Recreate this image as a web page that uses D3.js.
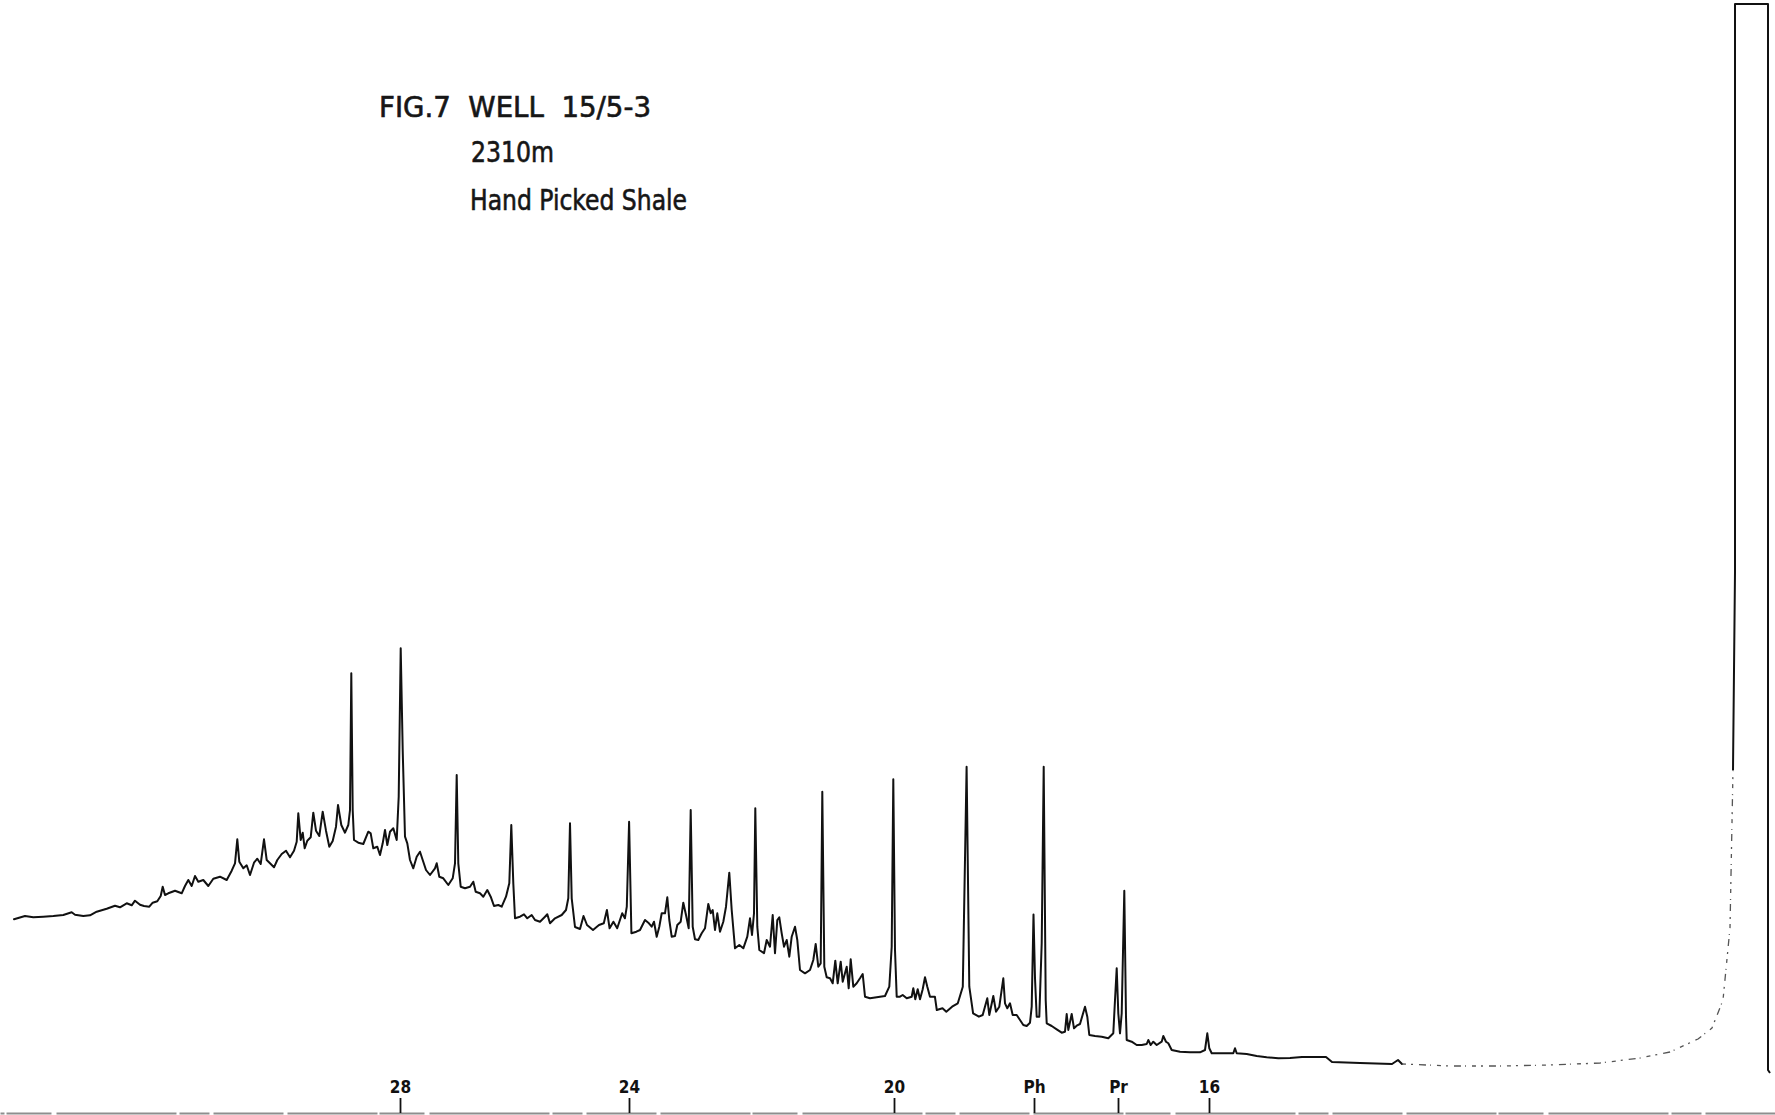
<!DOCTYPE html>
<html>
<head>
<meta charset="utf-8">
<script src="https://cdn.jsdelivr.net/npm/d3@7"></script>
<style>
  html, body { margin: 0; padding: 0; background: #ffffff; }
  svg { display: block; }
</style>
</head>
<body>
<svg id="chart" width="1775" height="1115"></svg>
<script>
// Gas chromatogram of the hand-picked shale extract.
// Retention time in minutes (time runs right to left on the plotter chart),
// detector response in percent of full scale.

const titleLines = ["FIG.7  WELL  15/5-3", "2310m", "Hand Picked Shale"];

// Labelled peaks: n-alkane carbon numbers, phytane and pristane
const tickLabels = ["28", "24", "20", "Ph", "Pr", "16"];
const tickTimes  = [55.0, 45.84, 35.24, 29.64, 26.28, 22.64];

// Recorded trace [time (min), response (%)], from the late end of the run to C15
const trace = [
  [70.44,19.57],[70.0,19.9],[69.668,19.77],[69.268,19.83],[68.868,19.9],[68.468,20.0],
  [68.132,20.27],[68.0,20.03],[67.668,19.9],[67.4,19.97],[67.132,20.33],[66.732,20.63],
  [66.4,20.93],[66.2,20.77],[65.932,21.17],[65.732,20.97],[65.6,21.43],[65.4,21.03],
  [65.24,20.9],[65.028,20.83],[64.892,21.23],[64.708,21.37],[64.572,21.9],[64.492,22.83],
  [64.4,22.0],[64.268,22.17],[64.0,22.43],[63.732,22.17],[63.6,22.9],[63.468,23.5],
  [63.332,22.9],[63.2,23.9],[63.068,23.33],[62.868,23.5],[62.668,22.9],[62.468,23.63],
  [62.2,23.83],[61.932,23.5],[61.732,24.43],[61.6,25.17],[61.508,27.57],[61.428,25.33],
  [61.268,24.67],[61.132,24.97],[61.0,24.0],[60.84,25.23],[60.708,25.63],[60.572,25.1],
  [60.44,27.57],[60.332,25.5],[60.2,25.17],[60.04,24.77],[59.908,25.5],[59.732,26.1],
  [59.56,26.43],[59.4,25.77],[59.24,26.43],[59.132,27.33],[59.068,30.17],[58.972,27.5],
  [58.892,28.23],[58.812,26.67],[58.708,27.43],[58.572,27.77],[58.468,30.23],[58.36,28.43],
  [58.228,27.9],[58.092,30.33],[57.96,28.43],[57.828,26.83],[57.692,27.4],[57.56,28.83],
  [57.48,31.0],[57.348,29.0],[57.2,28.23],[57.068,29.0],[57.0,30.5],[56.948,44.17],
  [56.892,30.5],[56.84,27.5],[56.668,27.23],[56.468,27.1],[56.268,28.33],[56.172,28.17],
  [56.068,26.67],[55.908,26.83],[55.8,26.0],[55.692,27.17],[55.6,28.5],[55.508,27.0],
  [55.4,28.33],[55.268,28.67],[55.132,27.5],[55.052,31.83],[54.972,46.67],[54.892,36.5],
  [54.8,27.83],[54.708,27.17],[54.6,25.5],[54.468,24.67],[54.332,25.83],[54.2,26.33],
  [54.092,25.5],[53.96,24.5],[53.8,24.0],[53.6,24.67],[53.532,25.17],[53.428,23.83],
  [53.268,23.67],[53.068,23.0],[52.892,23.67],[52.8,25.17],[52.732,34.0],[52.668,25.17],
  [52.572,22.83],[52.4,22.67],[52.2,22.83],[52.068,23.33],[51.972,22.33],[51.8,22.17],
  [51.668,21.83],[51.508,22.5],[51.372,21.83],[51.24,20.9],[51.068,21.0],[50.932,20.83],
  [50.76,21.83],[50.628,23.17],[50.548,29.0],[50.468,23.17],[50.4,19.67],[50.2,19.83],
  [50.04,20.07],[49.908,19.67],[49.732,20.0],[49.6,19.5],[49.4,19.33],[49.2,19.83],
  [49.108,20.07],[49.0,19.17],[48.8,19.67],[48.532,20.0],[48.36,20.5],[48.268,21.67],
  [48.2,29.17],[48.132,21.67],[48.0,18.8],[47.8,18.6],[47.66,19.9],[47.52,19.0],
  [47.28,18.5],[47.04,19.0],[46.848,19.17],[46.724,20.5],[46.616,18.67],[46.464,19.33],
  [46.312,18.67],[46.112,20.17],[46.004,19.67],[45.928,20.83],[45.836,29.33],[45.744,18.17],
  [45.544,18.33],[45.4,18.5],[45.2,19.5],[45.068,19.23],[44.932,18.83],[44.84,19.33],
  [44.732,17.83],[44.628,18.83],[44.532,20.17],[44.4,20.17],[44.308,21.77],[44.228,19.5],
  [44.132,17.83],[44.0,17.9],[43.908,19.0],[43.772,19.33],[43.668,21.23],[43.56,20.0],
  [43.452,18.67],[43.372,30.5],[43.292,18.83],[43.2,17.57],[43.068,17.5],[42.932,18.17],
  [42.8,18.67],[42.668,21.1],[42.572,20.17],[42.492,20.5],[42.4,18.5],[42.308,20.17],
  [42.2,18.33],[42.068,19.33],[41.96,20.83],[41.828,24.23],[41.732,20.5],[41.6,16.67],
  [41.428,17.0],[41.268,16.67],[41.108,17.83],[41.0,19.67],[40.92,18.0],[40.84,20.17],
  [40.788,30.67],[40.708,18.83],[40.628,16.5],[40.44,16.17],[40.332,17.5],[40.2,16.83],
  [40.092,20.0],[40.0,16.17],[39.908,19.5],[39.828,19.77],[39.732,18.17],[39.64,16.83],
  [39.532,17.5],[39.428,15.83],[39.332,17.83],[39.2,18.83],[39.108,17.5],[39.0,14.5],
  [38.8,14.17],[38.6,14.5],[38.468,15.5],[38.372,17.1],[38.268,14.83],[38.172,15.17],
  [38.108,32.33],[38.028,14.83],[37.932,13.77],[37.8,13.67],[37.692,13.17],[37.588,15.43],
  [37.492,13.17],[37.372,15.33],[37.292,13.33],[37.132,14.83],[37.052,12.67],[36.972,15.57],
  [36.868,12.83],[36.732,13.17],[36.6,13.67],[36.492,14.1],[36.4,11.83],[36.2,11.67],
  [35.932,11.77],[35.6,11.9],[35.428,12.83],[35.332,16.83],[35.268,33.57],[35.2,16.5],
  [35.132,11.83],[35.0,11.83],[34.892,12.0],[34.732,11.67],[34.532,11.83],[34.468,12.67],
  [34.388,11.57],[34.292,12.57],[34.2,11.57],[34.092,12.57],[34.0,13.77],[33.908,12.83],
  [33.8,11.83],[33.604,11.83],[33.528,10.5],[33.3,10.67],[33.148,10.33],[32.916,10.83],
  [32.688,11.17],[32.488,12.83],[32.336,34.83],[32.228,12.83],[32.076,10.17],[31.844,9.83],
  [31.692,10.0],[31.508,11.67],[31.428,10.0],[31.268,11.9],[31.16,10.33],[31.028,10.83],
  [30.868,13.67],[30.8,11.17],[30.708,10.67],[30.6,11.17],[30.492,10.0],[30.332,10.0],
  [30.2,9.5],[30.068,9.0],[29.932,8.9],[29.8,9.23],[29.732,10.83],[29.66,20.05],
  [29.6,13.67],[29.532,9.83],[29.428,9.83],[29.332,17.17],[29.252,34.83],[29.172,11.5],
  [29.132,9.17],[28.932,8.9],[28.732,8.57],[28.532,8.23],[28.4,8.33],[28.332,10.1],
  [28.268,8.5],[28.132,10.1],[28.04,8.67],[27.932,8.93],[27.8,9.1],[27.6,10.83],
  [27.508,9.83],[27.428,8.0],[27.2,7.9],[26.932,7.83],[26.668,7.67],[26.468,8.17],
  [26.4,11.5],[26.332,14.67],[26.268,10.17],[26.2,8.17],[26.132,10.17],[26.028,22.43],
  [25.96,9.83],[25.932,7.5],[25.732,7.33],[25.532,7.0],[25.332,7.0],[25.132,7.1],
  [25.068,7.5],[24.972,7.0],[24.868,7.33],[24.732,7.0],[24.532,7.33],[24.468,7.9],
  [24.36,7.33],[24.268,7.17],[24.132,6.5],[23.8,6.33],[23.4,6.27],[23.0,6.27],
  [22.8,6.5],[22.708,8.17],[22.628,6.67],[22.532,6.17],[22.2,6.17],[21.668,6.17],
  [21.6,6.67],[21.532,6.17],[21.132,6.1],[20.732,5.9],[20.332,5.77],[19.868,5.67],
  [19.4,5.7],[18.92,5.8],[17.96,5.8],[17.72,5.3],[16.6,5.2],[15.32,5.1],
  [15.08,5.5],[14.92,5.1]
];

// Faint early baseline running into the solvent tail
const traceTail = [
  [14.92,5.1],[13.0,4.9],[11.0,4.9],[9.0,5.0],[7.0,5.2],[5.4,5.7],[4.2,6.3],
  [3.08,7.6],[2.52,8.7],[2.08,11.5],[1.8,18.7],[1.68,34.5]
];

// Solvent peak, off scale at the top of the paper
const solventPeak = [
  [1.68,34.5],[1.6,54.3],[1.6,111.1],[0.28,111.1],[0.28,4.5],[0.2,4.2]
];

const W = 1775, H = 1115;
const FONT = "'Liberation Sans Narrow', 'DejaVu Sans Condensed', 'Arial Narrow', sans-serif";

const x = d3.scaleLinear().domain([0, 71]).range([W, 0]);
const y = d3.scaleLinear().domain([0, 111.5]).range([H, 0]);

const svg = d3.select("#chart");
svg.append("rect").attr("width", W).attr("height", H).attr("fill", "#ffffff");

const line = d3.line().x(d => x(d[0])).y(d => y(d[1]));

// Main recorder trace
svg.append("path")
  .datum(trace)
  .attr("d", line)
  .attr("fill", "none")
  .attr("stroke", "#111")
  .attr("stroke-width", 2)
  .attr("stroke-linejoin", "round")
  .attr("stroke-linecap", "round");

// Faint pen trace near the start of the run
svg.append("path")
  .datum(traceTail)
  .attr("d", line)
  .attr("fill", "none")
  .attr("stroke", "#555")
  .attr("stroke-width", 1.3)
  .attr("stroke-dasharray", "4 5 2 6 7 4 1 6")
  .attr("stroke-linejoin", "round");

// Solvent front
svg.append("path")
  .datum(solventPeak)
  .attr("d", line)
  .attr("fill", "none")
  .attr("stroke", "#111")
  .attr("stroke-width", 2)
  .attr("stroke-linejoin", "round");

// Peak markers along the bottom of the chart paper
const axis = d3.axisTop(x)
  .tickValues(tickTimes)
  .tickFormat((d, i) => tickLabels[i])
  .tickSizeInner(15)
  .tickSizeOuter(0)
  .tickPadding(5);

const gAxis = svg.append("g")
  .attr("transform", `translate(0,${H - 2})`)
  .call(axis)
  .attr("font-family", FONT)
  .attr("font-size", 17);

gAxis.select(".domain")
  .attr("stroke", "#8e8e8e")
  .attr("stroke-width", 2.2)
  .attr("stroke-dasharray", "70 4 30 3 120 5 45 2 90 4");
gAxis.selectAll(".tick line")
  .attr("stroke", "#111")
  .attr("stroke-width", 1.8);
gAxis.selectAll(".tick text")
  .attr("fill", "#111")
  .attr("font-weight", "bold");

// Figure caption
const captionLayout = [
  { x: 379, y: 117, len: 272 },
  { x: 471, y: 162, len: 83 },
  { x: 470, y: 210, len: 217 }
];
svg.append("g")
  .attr("font-family", FONT)
  .attr("font-size", 29)
  .attr("fill", "#161616")
  .attr("stroke", "#161616")
  .attr("stroke-width", 0.6)
  .selectAll("text")
  .data(titleLines)
  .join("text")
  .attr("x", (d, i) => captionLayout[i].x)
  .attr("y", (d, i) => captionLayout[i].y)
  .attr("textLength", (d, i) => captionLayout[i].len)
  .attr("lengthAdjust", "spacingAndGlyphs")
  .style("white-space", "pre")
  .text(d => d);
</script>
</body>
</html>
